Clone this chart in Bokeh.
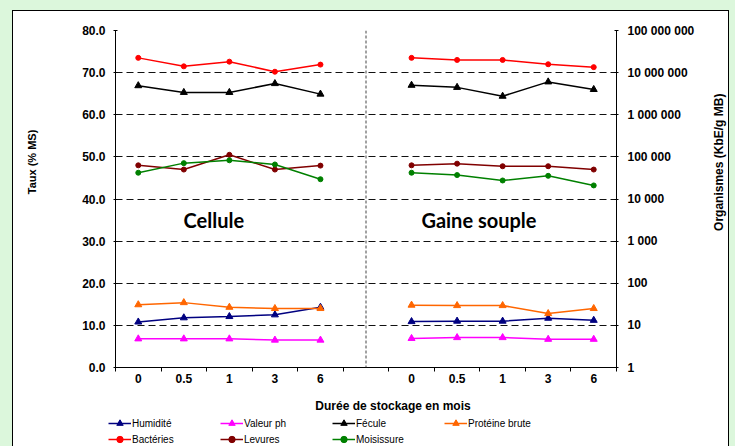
import math
from bokeh.plotting import figure
from bokeh.layouts import column, row
from bokeh.models import (Range1d, LogScale, LogAxis, FixedTicker, Span, Label,
                          Legend, LegendItem, CustomJSTickFormatter, PrintfTickFormatter,
                          GlobalInlineStyleSheet)
from bokeh.embed import file_html
from bokeh.resources import INLINE

# ---------------- data ----------------
durees = ["0", "0.5", "1", "3", "6"]
sections = ["Cellule", "Gaine souple"]

humidite_cellule = [10.8, 11.8, 12.1, 12.5, 14.3]
humidite_gaine = [10.9, 11.0, 11.0, 11.7, 11.2]
ph_cellule = [6.8, 6.8, 6.8, 6.5, 6.5]
ph_gaine = [6.9, 7.1, 7.1, 6.7, 6.7]
fecule_cellule = [66.9, 65.3, 65.3, 67.4, 64.9]
fecule_gaine = [67.0, 66.5, 64.4, 67.8, 66.0]
proteine_cellule = [14.9, 15.4, 14.3, 14.0, 14.0]
proteine_gaine = [14.8, 14.7, 14.7, 12.8, 14.0]

bacteries_cellule = [22400000, 14100000, 18200000, 10500000, 15500000]
bacteries_gaine = [22400000, 20000000, 20000000, 15800000, 13500000]
levures_cellule = [63000, 50000, 112000, 50000, 62000]
levures_gaine = [63000, 69000, 60000, 60000, 50000]
moisissure_cellule = [42000, 71000, 83000, 66000, 29500]
moisissure_gaine = [42000, 37000, 27500, 35500, 21000]

left_ticks = [0, 10, 20, 30, 40, 50, 60, 70, 80]
right_ticks = [1, 10, 100, 1000, 10000, 100000, 1000000, 10000000, 100000000]

titre_x = "Durée de stockage en mois"
titre_gauche = "Taux  (% MS)"
titre_droite = "Organismes (KbE/g MB)"

# ---------------- layout ----------------
n = len(durees)
nan = float("nan")
x_cell = list(range(n))
x_gaine = [n + 1 + i for i in range(n)]
xs = x_cell + [n] + x_gaine

FONT = "Liberation Sans"
W_L, W_R, W_TOT = 40, 23, 715
H_TOP, H_BOT = 376, 59

lin_series = [
    ("Humidité", humidite_cellule, humidite_gaine, "#000080"),
    ("Valeur ph", ph_cellule, ph_gaine, "#ff00ff"),
    ("Fécule", fecule_cellule, fecule_gaine, "#000000"),
    ("Protéine brute", proteine_cellule, proteine_gaine, "#ff6600"),
]
log_series = [
    ("Bactéries", bacteries_cellule, bacteries_gaine, "#ff0000"),
    ("Levures", levures_cellule, levures_gaine, "#800000"),
    ("Moisissure", moisissure_cellule, moisissure_gaine, "#008000"),
]


def blank(w, h):
    f = figure(width=w, height=h, x_range=Range1d(0, w), y_range=Range1d(0, h),
               output_backend="svg", toolbar_location=None,
               x_axis_type=None, y_axis_type=None, min_border=0,
               background_fill_color="white", border_fill_color="white")
    f.outline_line_color = None
    f.xgrid.visible = False
    f.ygrid.visible = False
    return f


# ---------- main plot ----------
p = figure(width=W_TOT - W_L - W_R, height=H_TOP,
           x_range=Range1d(-0.5, 2 * n + 0.5), y_range=Range1d(0, 80),
           output_backend="svg", toolbar_location=None,
           min_border_left=62, min_border_right=89,
           min_border_top=19, min_border_bottom=20,
           background_fill_color="white", border_fill_color="white")
p.outline_line_color = None
p.extra_y_ranges = {"log": Range1d(1, 1e8)}
p.extra_y_scales = {"log": LogScale()}

xa = p.xaxis[0]
xa.ticker = FixedTicker(ticks=xs[:n] + xs[n + 1:],
                        minor_ticks=[i - 0.5 for i in range(2 * n + 2)])
xa.major_label_overrides = {x: lab for x, lab in zip(x_cell + x_gaine, durees + durees)}
xa.major_tick_line_color = None
xa.major_tick_out = 0
xa.major_tick_in = 0
xa.minor_tick_line_color = "black"
xa.minor_tick_out = 4
xa.minor_tick_in = 0
xa.major_label_standoff = 2
xa.major_label_text_font = FONT
xa.major_label_text_font_style = "bold"
xa.major_label_text_font_size = "12px"
xa.major_label_text_color = "black"
xa.axis_line_color = "black"

ya = p.yaxis[0]
ya.ticker = FixedTicker(ticks=left_ticks)
ya.formatter = PrintfTickFormatter(format="%.1f")
ya.major_tick_in = 2
ya.major_tick_out = 2
ya.minor_tick_line_color = None
ya.major_label_standoff = 8
ya.major_label_text_font = FONT
ya.major_label_text_font_style = "bold"
ya.major_label_text_font_size = "12px"
ya.major_label_text_color = "black"

ra = LogAxis(y_range_name="log", ticker=FixedTicker(ticks=right_ticks),
             formatter=CustomJSTickFormatter(code=
                 "return Math.round(tick).toString().replace(/\\B(?=(\\d{3})+(?!\\d))/g, ' ');"))
ra.major_tick_in = 2
ra.major_tick_out = 2
ra.minor_tick_line_color = None
ra.major_label_standoff = 9
ra.major_label_text_font = FONT
ra.major_label_text_font_style = "bold"
ra.major_label_text_font_size = "12px"
ra.major_label_text_color = "black"
p.add_layout(ra, "right")

p.xgrid.grid_line_color = None
p.ygrid.ticker = FixedTicker(ticks=left_ticks[1:])
p.ygrid.grid_line_color = "#111111"
p.ygrid.grid_line_dash = "7 4"
p.ygrid.grid_line_width = 1

p.add_layout(Span(location=n, dimension="height", line_color="#444444",
                  line_dash="3 2", line_width=1))

for name, yc, yg, col in lin_series:
    ys = list(yc) + [nan] + list(yg)
    p.line(xs, ys, line_color=col, line_width=1.5)
    p.scatter(xs, ys, marker="triangle", size=7, fill_color=col, line_color=col)
for name, yc, yg, col in log_series:
    ys = list(yc) + [nan] + list(yg)
    p.line(xs, ys, line_color=col, line_width=1.5, y_range_name="log")
    p.scatter(xs, ys, marker="circle", size=5, fill_color=col, line_color=col,
              y_range_name="log")

p.add_layout(Label(x=1.66, y=35.1, text=sections[0], text_font="Lato",
                   text_font_style="bold", text_font_size="20px", text_color="black",
                   text_align="center", text_baseline="middle"))
p.add_layout(Label(x=7.48, y=35.1, text=sections[1], text_font="Lato",
                   text_font_style="bold", text_font_size="20px", text_color="black",
                   text_align="center", text_baseline="middle"))

# ---------- side title strips ----------
pl = blank(W_L, H_TOP)
pl.add_layout(Label(x=18, y=231, text=titre_gauche, angle=math.pi / 2,
                    text_font=FONT, text_font_style="bold", text_font_size="11px",
                    text_color="black", text_align="center", text_baseline="middle"))

pr = blank(W_R, H_TOP)
pr.add_layout(Label(x=13, y=229, text=titre_droite, angle=math.pi / 2,
                    text_font=FONT, text_font_style="bold", text_font_size="12px",
                    text_color="black", text_align="center", text_baseline="middle"))

# ---------- bottom strip: x title + legend ----------
pb = blank(W_TOT, H_BOT)
pb.add_layout(Label(x=379.5, y=41, text=titre_x, text_font=FONT,
                    text_font_style="bold", text_font_size="12px", text_color="black",
                    text_align="center", text_baseline="middle"))

items_lin, items_log = [], []
for name, yc, yg, col in lin_series:
    ys = list(yc) + [nan] + list(yg)
    l = pb.line(xs, ys, line_color=col, line_width=1.5, visible=False)
    s = pb.scatter(xs, ys, marker="triangle", size=7, fill_color=col, line_color=col,
                   visible=False)
    items_lin.append(LegendItem(label=name, renderers=[l, s]))
for name, yc, yg, col in log_series:
    ys = list(yc) + [nan] + list(yg)
    l = pb.line(xs, ys, line_color=col, line_width=1.5, visible=False)
    s = pb.scatter(xs, ys, marker="circle", size=5, fill_color=col, line_color=col,
                   visible=False)
    items_log.append(LegendItem(label=name, renderers=[l, s]))


def make_legend(its, vy):
    return Legend(items=its, location=(95, vy), orientation="horizontal",
                  padding=0, margin=0, spacing=0, label_standoff=1,
                  glyph_width=23, glyph_height=16, label_width=88, label_height=16,
                  border_line_color=None, background_fill_alpha=0,
                  inactive_fill_alpha=0,
                  label_text_font=FONT, label_text_font_size="10px",
                  label_text_color="black")


pb.add_layout(make_legend(items_lin, 15))
pb.add_layout(make_legend(items_log, -1))

layout = column(row(pl, p, pr, spacing=0), pb, spacing=0)
layout.stylesheets = [GlobalInlineStyleSheet(css=(
    "html{margin:0!important;padding:0!important;background:#dcf7dc!important;overflow:hidden!important;}"
    "body{margin:0!important;padding:11px 0 0 13px!important;box-sizing:border-box!important;"
    "background:#dcf7dc!important;overflow:hidden!important;}"))]
layout.styles = {"outline": "1px solid black", "background-color": "white"}

open("out.html", "w", encoding="utf-8").write(file_html(layout, INLINE))
